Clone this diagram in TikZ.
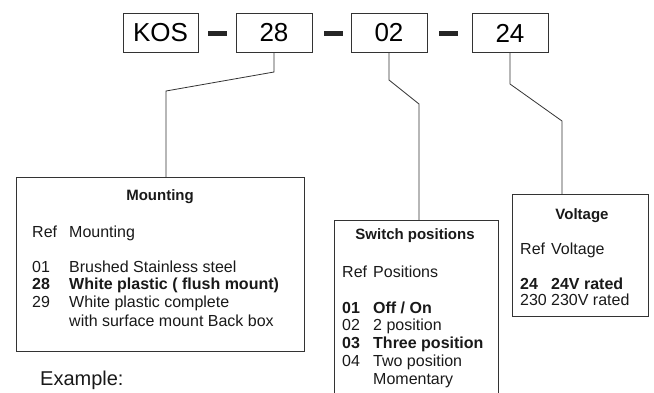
\documentclass[tikz,border=0pt]{standalone}
\usepackage{fontspec}
\setmainfont{Liberation Sans}
\usetikzlibrary{positioning}

\tikzset{
  codebox/.style={draw=black!80,line width=.8pt,minimum height=39pt,inner sep=0pt,
    font=\fontsize{26}{28}\selectfont},
  dashbar/.style={fill=black!85,minimum width=19pt,minimum height=5pt,inner sep=0pt},
  infobox/.style={draw=black!80,line width=.8pt,anchor=north west,inner sep=0pt},
  lead/.style={black!80,line width=.8pt},
  boxtitle/.style={anchor=base,inner sep=0pt,text=black!90,font=\bfseries\fontsize{15}{17}\selectfont},
  item/.style={anchor=base west,inner sep=0pt,text=black!90,font=\fontsize{16}{18}\selectfont},
}

\begin{document}
\begin{tikzpicture}[x=1pt,y=-1pt]
\useasboundingbox (0,0) rectangle (654,392);

% part number
\node[codebox,minimum width=75pt] (kos) at (160.5,32.5) {KOS};
\node[codebox,minimum width=76pt] (c28) at (274,32.5) {28};
\node[codebox,minimum width=76pt] (c02) at (389,32.5) {02};
\node[codebox,minimum width=76pt] (c24) at (510,33) {24};
\node[dashbar] (d1) at (217.5,33.5) {};
\node[dashbar] (d2) at (333,33.5) {};
\node[dashbar] (d3) at (448,33.5) {};

% option boxes
\node[infobox,minimum width=288pt,minimum height=174pt] (mount) at (16,177) {};
\node[infobox,minimum width=164pt,minimum height=200pt] (switch) at (334,220) {};
\node[infobox,minimum width=136pt,minimum height=122pt] (volt) at (512,194) {};

% leaders
\coordinate (k28) at (166,91);
\coordinate (k02) at (419,104);
\coordinate (k24) at (562,121);
\draw[lead] (c28.south) -- (274,72) -- (k28) -- (k28 |- mount.north);
\draw[lead] (c02.south) -- (389,80) -- (k02) -- (k02 |- switch.north);
\draw[lead] (c24.south) -- (510,84) -- (k24) -- (k24 |- volt.north);

% mounting
\node[boxtitle] (mt) at (160,200) {Mounting};
\foreach \y/\r/\t in {237/Ref/Mounting,272/01/{Brushed Stainless steel},
  289/{\textbf{28}}/{\textbf{White plastic ( flush mount)}},
  307/29/{White plastic complete},326/{}/{with surface mount Back box}}{
  \node[item] (mr\y) at (32,\y) {\r};
  \node[item] (mx\y) at (69,\y) {\t};
}

% switch positions
\node[boxtitle] (st) at (415,239) {Switch positions};
\foreach \y/\r/\t in {277/Ref/Positions,313/{\textbf{01}}/{\textbf{Off / On}},
  330/02/{2 position},348/{\textbf{03}}/{\textbf{Three position}},
  366/04/{Two position},384/{}/Momentary}{
  \node[item] (sr\y) at (342,\y) {\r};
  \node[item] (sx\y) at (373,\y) {\t};
}

% voltage
\node[boxtitle] (vt) at (582,219) {Voltage};
\foreach \y/\r/\t in {254/Ref/Voltage,289/{\textbf{24}}/{\textbf{24V rated}},
  305/230/{230V rated}}{
  \node[item] (vr\y) at (520,\y) {\r};
  \node[item] (vx\y) at (551,\y) {\t};
}

\node[anchor=base west,inner sep=0pt,text=black!90,font=\fontsize{20}{22}\selectfont] (ex) at (40,385) {Example:};
\end{tikzpicture}
\end{document}
